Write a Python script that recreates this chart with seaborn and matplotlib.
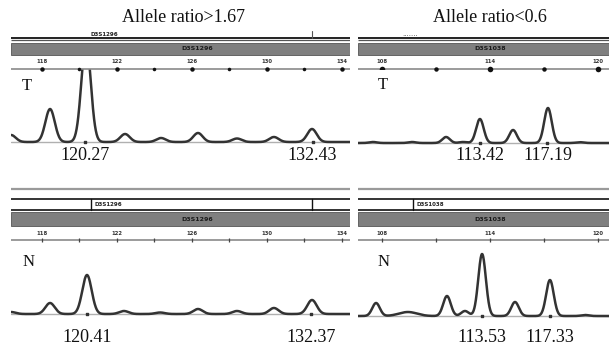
import numpy as np
import pandas as pd
import matplotlib
matplotlib.use("Agg")
import matplotlib.pyplot as plt
import matplotlib.transforms as mtransforms
from matplotlib.patches import Rectangle
import seaborn as sns

# ---------------- data ----------------
titles = ["Allele ratio>1.67", "Allele ratio<0.6"]
markers = ["D3S1296", "D3S1038"]
sample_labels = ["T", "N"]

left_ticks = [118, 122, 126, 130, 134]
left_minor = [120, 124, 128, 132]
right_ticks = [108, 114, 120]
right_minor = [111, 117]

# tumour (T) / normal (N) peaks: size (bp) and height
tl_pos = [116.35, 118.43, 120.35, 122.43, 124.35, 126.32, 128.40, 130.37, 132.40]
tl_height = [7, 33, 100, 8, 4, 9, 3.5, 5, 13]
bl_pos = [116.35, 118.43, 120.40, 122.37, 124.30, 126.32, 128.40, 130.37, 132.40]
bl_height = [2, 11, 39, 3, 1.5, 5, 3, 6, 14]
tr_pos = [107.50, 109.67, 111.56, 112.50, 113.44, 115.28, 117.22, 119.00]
tr_height = [1, 1, 6, 1, 24, 13, 35, 0.8]
br_pos = [107.67, 109.44, 111.61, 112.61, 113.56, 115.39, 117.33, 119.28]
br_height = [13, 4, 20, 5, 62, 14, 36, 1]
br_width = [0.21, 0.5, 0.21, 0.21, 0.21, 0.21, 0.21, 0.21]

tl_called = [120.27, 132.43]
bl_called = [120.41, 132.37]
tr_called = [113.42, 117.19]
br_called = [113.53, 117.33]

# ---------------- layout helpers ----------------
W, H = 609, 344
fig = plt.figure(figsize=(W / 100, H / 100), dpi=100)
fig.patch.set_facecolor("white")
sns.set_style("white")
plt.rcParams["font.family"] = ["DejaVu Sans"]


def rect(x0, y0, x1, y1):
    return [x0 / W, 1 - y1 / H, (x1 - x0) / W, (y1 - y0) / H]


SERIF = "Liberation Serif"
TRACE = "#333333"

panels = {
    "L": dict(x0=11, x1=350, xlim=(116.347, 134.427), ticks=left_ticks, minor=left_minor,
              marker=markers[0]),
    "R": dict(x0=358, x1=609, xlim=(106.667, 120.611), ticks=right_ticks, minor=right_minor,
              marker=markers[1]),
}

traces = [
    # panel, row, pos, height, width, called, baseline, sample, label y, sample xy
    ("L", "top", tl_pos, tl_height, [0.25] * len(tl_pos), tl_called, 142, "T", 155, (27, 86)),
    ("L", "bot", bl_pos, bl_height, [0.25] * len(bl_pos), bl_called, 314, "N", 337, (29, 262)),
    ("R", "top", tr_pos, tr_height, [0.21] * len(tr_pos), tr_called, 143, "T", 155, (383, 85)),
    ("R", "bot", br_pos, br_height, br_width, br_called, 316, "N", 337, (384, 262)),
]

for key, row, pos, hgt, wid, called, base, samp, laby, sxy in traces:
    p = panels[key]
    top = 69 if row == "top" else 240
    bottom = base + 9
    ax = fig.add_axes(rect(p["x0"], top, p["x1"], bottom))
    ax.set_facecolor("#f6f6f6")
    xs = np.linspace(p["xlim"][0], p["xlim"][1], 1200)
    ys = np.zeros_like(xs)
    for c, h, s in zip(pos, hgt, wid):
        ys += h * np.exp(-0.5 * ((xs - c) / s) ** 2)
    df = pd.DataFrame({"size": xs, "rfu": ys})
    ax.axhline(0, color="#b0b0b0", lw=1.0, zorder=1)
    sns.lineplot(data=df, x="size", y="rfu", ax=ax, color=TRACE, lw=1.8,
                 estimator=None, sort=False, zorder=3)
    ax.scatter(called, [0, 0], marker="s", s=3, color="#333333", zorder=4)
    ax.set_xlim(*p["xlim"])
    ax.set_ylim(-(bottom - base), base - top)
    ax.set_axis_off()
    # called size labels
    tr = mtransforms.blended_transform_factory(ax.transData, fig.transFigure)
    for c in called:
        fig.text(c, 1 - laby / H, f"{c:.2f}", transform=tr, ha="center", va="center",
                 fontsize=13, family=SERIF, color="#111111")
    # sample label with white box
    fig.text(sxy[0] / W, 1 - sxy[1] / H, samp, ha="center", va="center", fontsize=12,
             family=SERIF, color="#111111",
             bbox=dict(boxstyle="square,pad=0.4", fc="white", ec="none"))

# ---------------- header strips ----------------
for key in ["L", "R"]:
    p = panels[key]
    for row in ["top", "bot"]:
        if row == "top":
            y0, y1 = 28, 72
            axis_y, lab_y, bar = 69, 61.5, (43, 55)
        else:
            y0, y1 = 185, 243
            axis_y, lab_y, bar = 240, 233, (212, 226)
        hx = fig.add_axes(rect(p["x0"], y0, p["x1"], y1))
        hx.set_xlim(*p["xlim"])
        hx.set_ylim(y1, y0)
        hx.set_axis_off()
        hx.patch.set_alpha(0)
        xa, xb = p["xlim"]
        if row == "top":
            hx.plot([xa, xb], [37.5, 37.5], color="#111111", lw=1.3, solid_capstyle="butt")
            hx.plot([xa, xb], [40, 40], color="#555555", lw=0.9, solid_capstyle="butt")
            if key == "L":
                hx.text(120.6, 34, p["marker"], fontsize=4, weight="bold", color="#222222",
                        va="center", ha="left")
                hx.plot([132.4, 132.4], [31, 37.5], color="#555555", lw=0.8)
            else:
                hx.text(109.1, 36, "·······", fontsize=5, color="#555555", va="center")
        else:
            hx.plot([xa, xb], [189, 189], color="#9a9a9a", lw=1.6, solid_capstyle="butt")
            hx.plot([xa, xb], [199, 199], color="#111111", lw=1.2, solid_capstyle="butt")
            hx.plot([xa, xb], [210, 210], color="#111111", lw=1.2, solid_capstyle="butt")
            if key == "L":
                lx = 120.6
                hx.plot([132.4, 132.4], [199, 210], color="#111111", lw=1.0)
            else:
                lx = 109.7
            hx.plot([lx, lx], [199, 210], color="#111111", lw=1.0)
            hx.text(lx + 0.2, 204.5, p["marker"], fontsize=4, weight="bold",
                    color="#222222", va="center", ha="left")
        # gray marker bar
        hx.add_patch(Rectangle((xa, bar[0]), xb - xa, bar[1] - bar[0], fc="#7f7f7f",
                               ec="#555555", lw=0.6))
        cx = 126.3 if key == "L" else 114.0
        hx.text(cx, (bar[0] + bar[1]) / 2, p["marker"], fontsize=4.5, weight="bold",
                color="#1a1a1a", ha="center", va="center")
        # size axis
        hx.plot([xa, xb], [axis_y, axis_y], color="#8a8a8a", lw=1.2, solid_capstyle="butt")
        for t in p["ticks"]:
            hx.text(t, lab_y, str(t), fontsize=3.8, weight="bold", color="#333333",
                    ha="center", va="center")
        if row == "top":
            ms_major = 3.2 if key == "L" else 4.0
            hx.plot(p["ticks"], [axis_y] * len(p["ticks"]), "o", color="#111111",
                    ms=ms_major, mew=0)
            hx.plot(p["minor"], [axis_y] * len(p["minor"]), "o", color="#111111",
                    ms=ms_major * 0.8, mew=0)
        else:
            allt = sorted(p["ticks"] + p["minor"])
            hx.plot(allt, [axis_y] * len(allt), "|", color="#444444", ms=3, mew=0.9)

# titles
fig.text(184 / W, 1 - 18 / H, titles[0], ha="center", va="center", fontsize=13,
         family=SERIF, color="#111111")
fig.text(490 / W, 1 - 18 / H, titles[1], ha="center", va="center", fontsize=13,
         family=SERIF, color="#111111")

fig.savefig("out.png", dpi=100)
